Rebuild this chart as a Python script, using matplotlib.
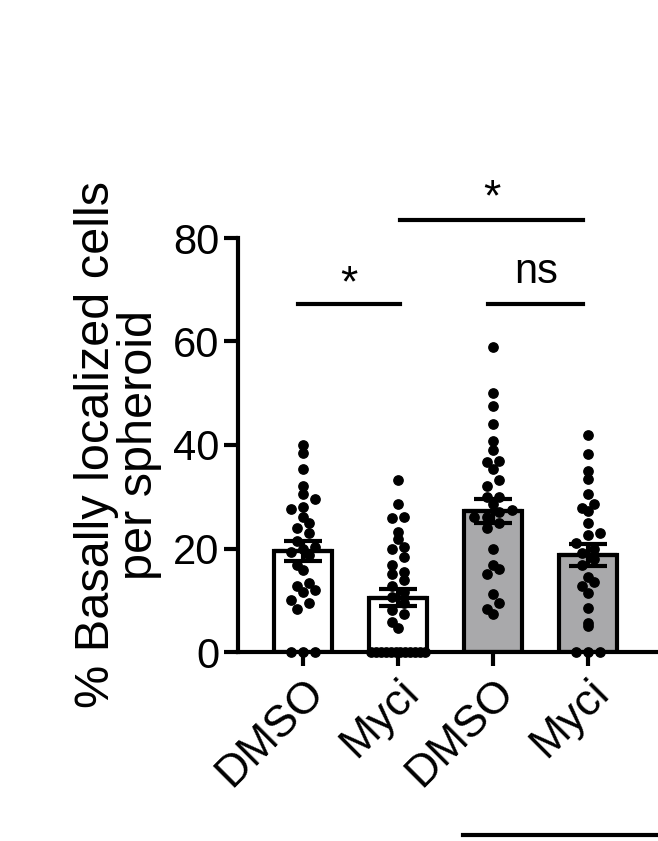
import matplotlib
matplotlib.use("Agg")
import matplotlib.pyplot as plt
import numpy as np

plt.rcParams['font.family'] = 'Liberation Sans'

categories = ["DMSO", "Myci", "DMSO", "Myci"]
colors = ["white", "white", "#a9a9ab", "#a9a9ab"]
g1 = [40, 38.4, 35.3, 32, 30.5, 29.6, 27.6, 28, 26, 25, 24, 23, 21.5, 20.3, 20, 19.3, 18.7, 16.8, 15.8, 13.3, 12.8, 12, 11.6, 10, 9.5, 8.3, 0, 0, 0]
g2 = [33.2, 28.6, 26, 25.9, 23.2, 21.8, 20.3, 20, 18.4, 16.8, 15.5, 15, 13.9, 12.8, 11.6, 10.6, 9.5, 8.1, 7.3, 5.8, 4.6] + [0]*12
g3 = [59, 50, 47.5, 44, 40.8, 39, 36.7, 35.3, 33.2, 32, 30, 28.6, 27.4, 26, 25, 24, 20, 16.8, 16, 15, 11.2, 9.5, 8.3, 7.3, 30, 37, 27, 26]
g4 = [42, 38.3, 35, 33.4, 30.5, 28.6, 27.8, 27.2, 25, 23, 22.6, 21, 20, 19.1, 18, 16.8, 14.5, 13.5, 12.8, 11.4, 8.5, 5.6, 5, 0, 0, 0]
groups = [g1, g2, g3, g4]
means = [19.5, 10.5, 27.3, 18.7]
sems = [1.9, 1.7, 2.3, 2.1]

fig = plt.figure(figsize=(6.58, 8.41), dpi=100)
ax = fig.add_axes([238/658, 189/841, 420/658, 414/841])
x = np.arange(4)
ax.bar(x, means, width=0.62, color=colors, edgecolor='black', linewidth=3, zorder=1)
for i, g in enumerate(groups):
    g = np.array(sorted(g))
    offs = np.zeros(len(g))
    keys = np.round(g / 2.2)
    for v in np.unique(keys):
        idx = np.where(keys == v)[0]
        step = min(0.13, 0.56 / max(len(idx) - 1, 1))
        offs[idx] = (np.arange(len(idx)) - (len(idx) - 1) / 2) * step
    ax.scatter(x[i] + offs, g, s=45, color='black', zorder=3, clip_on=False)
    ax.errorbar(x[i], means[i], yerr=sems[i], color='black', capsize=14, capthick=3, elinewidth=3, zorder=4)
    ax.plot([x[i] - 0.28, x[i] + 0.28], [means[i]] * 2, color='black', lw=3, zorder=4)

ax.set_xlim(-0.684, 3.737)
ax.set_ylim(0, 80)
ax.set_yticks([0, 20, 40, 60, 80])
ax.set_xticks(x)
ax.set_xticklabels(categories, rotation=45, ha='right', rotation_mode='anchor')
ax.tick_params(labelsize=30, width=3, length=10)
ax.tick_params(axis='x', labelsize=32, pad=4)
for s in ['top', 'right']:
    ax.spines[s].set_visible(False)
for s in ['left', 'bottom']:
    ax.spines[s].set_linewidth(3)
ax.set_ylabel("% Basally localized cells\nper spheroid", fontsize=35, linespacing=0.95, labelpad=8)

def sig(x1, x2, y, txt, ty):
    ax.plot([x1, x2], [y, y], color='black', lw=3, clip_on=False)
    ax.text((x1 + x2) / 2, ty, txt, ha='center', va='center', fontsize=30 if txt == 'ns' else 32)
sig(-0.05, 1.02, 67.2, "*", 71)
sig(1.95, 2.95, 67.2, "ns", 73.5)
sig(1.02, 2.95, 83.5, "*", 87.5)

fig.add_artist(plt.Line2D([463/658, 1.0], [6/841, 6/841], color='black', lw=3))
fig.savefig("out.png", dpi=100)
